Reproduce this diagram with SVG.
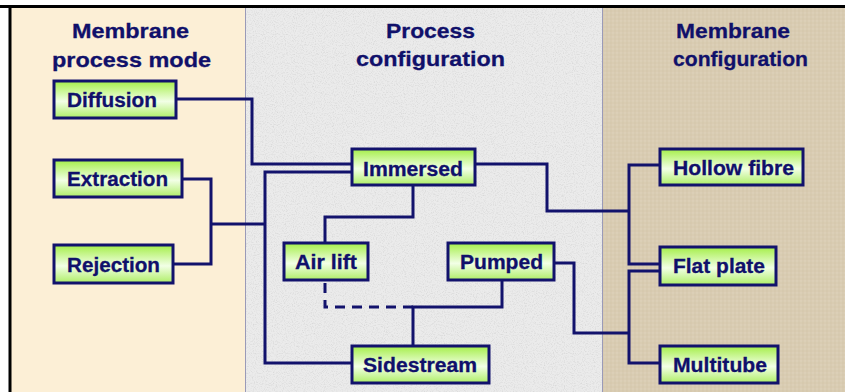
<svg xmlns="http://www.w3.org/2000/svg" width="845" height="392" viewBox="0 0 845 392">
<defs>
<linearGradient id="g" x1="0" y1="0" x2="0" y2="1">
<stop offset="0" stop-color="#a4ee48"/>
<stop offset="0.55" stop-color="#f2ffe6"/>
<stop offset="1" stop-color="#aeee66"/>
</linearGradient>
<filter id="speck" x="0" y="0" width="1" height="1">
<feTurbulence type="fractalNoise" baseFrequency="0.9" numOctaves="2" seed="3" result="n"/>
<feColorMatrix in="n" type="matrix" values="0 0 0 0 0.55  0 0 0 0 0.55  0 0 0 0 0.55  0 0 0 1.2 -0.55" result="m"/>
<feComposite in="m" in2="SourceGraphic" operator="in" result="c"/>
<feMerge><feMergeNode in="SourceGraphic"/><feMergeNode in="c"/></feMerge>
</filter>
<pattern id="weave" width="4" height="4" patternUnits="userSpaceOnUse">
<rect width="4" height="4" fill="#d9ccb2"/>
<path d="M0 1H4" stroke="#e2d7c2" stroke-width="1" opacity="0.6"/>
<path d="M3 0V4" stroke="#cdbfa4" stroke-width="1" opacity="0.5"/>
</pattern>
</defs>
<style>
.node rect{fill:url(#g);stroke:#12126c;stroke-width:3}
.node text,.title{font-family:"Liberation Sans",Arial,sans-serif;font-weight:bold;fill:#10106a;stroke:#10106a;stroke-width:0.3}
.node text{font-size:20px}
.title{font-size:21px}
.wire path{fill:none;stroke:#12126c;stroke-width:3}
.wire .dash{stroke-dasharray:10 7}
</style>
<rect width="845" height="392" fill="#ffffff"/>
<rect x="10" y="7" width="235" height="385" fill="#fcefd6"/>
<rect x="245" y="7" width="357" height="385" fill="#ebebeb" filter="url(#speck)"/>
<rect x="602" y="7" width="243" height="385" fill="url(#weave)"/>
<path d="M245.5 8V392M602.5 8V392" stroke="#9a9ab8" stroke-width="1"/>
<path d="M0 6.5H845M10 6V392" stroke="#000" stroke-width="3" fill="none"/>

<text class="title" x="72" y="38" textLength="117" lengthAdjust="spacingAndGlyphs">Membrane</text>
<text class="title" x="52" y="66.5" textLength="159" lengthAdjust="spacingAndGlyphs">process mode</text>
<text class="title" x="386" y="38" textLength="89" lengthAdjust="spacingAndGlyphs">Process</text>
<text class="title" x="356" y="66" textLength="149" lengthAdjust="spacingAndGlyphs">configuration</text>
<text class="title" x="676" y="38" textLength="114" lengthAdjust="spacingAndGlyphs">Membrane</text>
<text class="title" x="673" y="66" textLength="135" lengthAdjust="spacingAndGlyphs">configuration</text>

<g class="wire" id="connectors">
<path d="M176 99H252V164H352"/>
<path d="M352 172H265V363H352"/>
<path d="M182 179H211V264H173"/>
<path d="M211 224H265"/>
<path d="M413 185V217H325V243"/>
<path d="M475 164H547V211H629"/>
<path d="M660 165H629V264H660"/>
<path d="M660 271H629V363H660"/>
<path d="M554 263H574V333H629"/>
<path d="M502 280V307H413V346"/>
<path class="dash" d="M413 307H325V280"/>
</g>

<g class="node" id="diffusion"><rect x="54" y="81" width="122" height="37"/><text x="67" y="107" textLength="90" lengthAdjust="spacingAndGlyphs">Diffusion</text></g>
<g class="node" id="extraction"><rect x="54" y="160" width="128" height="37"/><text x="67" y="186" textLength="101" lengthAdjust="spacingAndGlyphs">Extraction</text></g>
<g class="node" id="rejection"><rect x="54" y="245" width="119" height="38"/><text x="67" y="272" textLength="93" lengthAdjust="spacingAndGlyphs">Rejection</text></g>
<g class="node" id="immersed"><rect x="352" y="149" width="123" height="36"/><text x="363" y="175.5" textLength="100" lengthAdjust="spacingAndGlyphs">Immersed</text></g>
<g class="node" id="airlift"><rect x="284" y="243" width="84" height="37"/><text x="295" y="269" textLength="62" lengthAdjust="spacingAndGlyphs">Air lift</text></g>
<g class="node" id="pumped"><rect x="448" y="243" width="106" height="37"/><text x="460" y="269" textLength="83" lengthAdjust="spacingAndGlyphs">Pumped</text></g>
<g class="node" id="sidestream"><rect x="352" y="346" width="137" height="37"/><text x="363" y="372" textLength="114" lengthAdjust="spacingAndGlyphs">Sidestream</text></g>
<g class="node" id="hollowfibre"><rect x="660" y="149" width="143" height="36"/><text x="673" y="174.5" textLength="121" lengthAdjust="spacingAndGlyphs">Hollow fibre</text></g>
<g class="node" id="flatplate"><rect x="660" y="247" width="116" height="38"/><text x="673" y="273" textLength="92" lengthAdjust="spacingAndGlyphs">Flat plate</text></g>
<g class="node" id="multitube"><rect x="660" y="346" width="118" height="37"/><text x="673" y="372" textLength="94" lengthAdjust="spacingAndGlyphs">Multitube</text></g>
</svg>
